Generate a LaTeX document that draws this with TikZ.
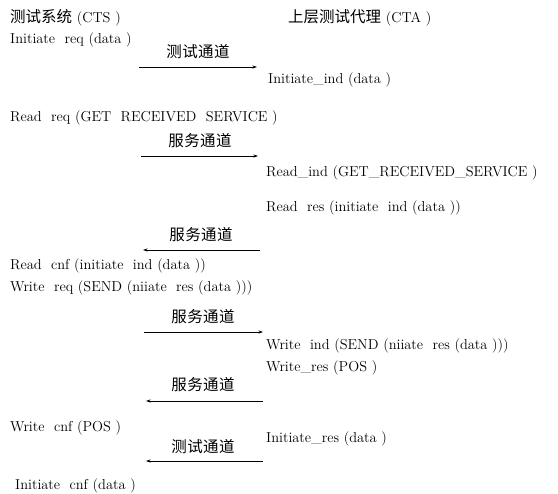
\documentclass[tikz,border=0pt]{standalone}
\usepackage{fontspec}
\newfontfamily\cjk{Noto Sans CJK SC}
\usetikzlibrary{arrows.meta}
\begin{document}
\begin{tikzpicture}[x=1pt,y=-1pt,
  lbl/.style={anchor=west,inner sep=0pt,font=\fontsize{14.4}{16}\selectfont\addfontfeature{LetterSpace=6}},
  ch/.style={inner sep=0pt,font=\cjk\fontsize{15.5}{17}\selectfont\addfontfeature{LetterSpace=3}},
  msg/.style={line width=0.7pt,-{Stealth[length=4.5pt,width=3pt]}}]
\useasboundingbox (0,0) rectangle (558,494);
\node[lbl] (cts) at (10,18) {{\cjk\fontsize{15.5}{17}\selectfont 测试系统} (CTS~)};
\node[lbl] (cta) at (288,18) {{\cjk\fontsize{15.5}{17}\selectfont 上层测试代理} (CTA~)};
\node[lbl] (t1) at (10,40) {Initiate\ \ req (data~)};
\node[ch] (c1) at (198,52) {测试通道};
\coordinate (a1s) at (139,67); \coordinate (a1e) at (257,67);
\draw[msg] (a1s) -- (a1e);
\node[lbl] (t2) at (268,80) {Initiate\_ind (data~)};
\node[lbl] (t3) at (10,118) {Read\ \ req (GET\ \ RECEIVED\ \ SERVICE~)};
\node[ch] (c2) at (200,141) {服务通道};
\coordinate (a2s) at (141,156); \coordinate (a2e) at (258,156);
\draw[msg] (a2s) -- (a2e);
\node[lbl] (t4) at (266,173) {Read\_ind (GET\_RECEIVED\_SERVICE~)};
\node[lbl] (t5) at (266,208) {Read\ \ res (initiate\ \ ind (data~))};
\node[ch] (c3) at (201,235) {服务通道};
\coordinate (a3s) at (260,250); \coordinate (a3e) at (143,250);
\draw[msg] (a3s) -- (a3e);
\node[lbl] (t6) at (10,266) {Read\ \ cnf (initiate\ \ ind (data~))};
\node[lbl] (t7) at (10,288) {Write\ \ req (SEND (niiate\ \ res (data~)))};
\node[ch] (c4) at (203,317) {服务通道};
\coordinate (a4s) at (144,332); \coordinate (a4e) at (263,332);
\draw[msg] (a4s) -- (a4e);
\node[lbl] (t8) at (266,346) {Write\ \ ind (SEND (niiate\ \ res (data~)))};
\node[lbl] (t9) at (266,368) {Write\_res (POS~)};
\node[ch] (c5) at (203,385) {服务通道};
\coordinate (a5s) at (263,401); \coordinate (a5e) at (146,401);
\draw[msg] (a5s) -- (a5e);
\node[lbl] (t10) at (10,428) {Write\ \ cnf (POS~)};
\node[lbl] (t11) at (266,439) {Initiate\_res (data~)};
\node[ch] (c6) at (203,447) {测试通道};
\coordinate (a6s) at (263,461); \coordinate (a6e) at (146,461);
\draw[msg] (a6s) -- (a6e);
\node[lbl] (t12) at (15,486) {Initiate\ \ cnf (data~)};
\end{tikzpicture}
\end{document}
